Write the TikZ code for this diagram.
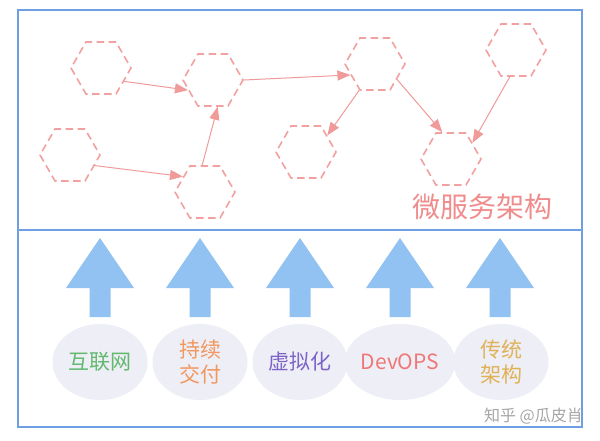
\documentclass[tikz,border=0pt]{standalone}
\usepackage{fontspec}
\setmainfont{Noto Sans CJK SC}
\usetikzlibrary{shapes.geometric,arrows.meta}
\definecolor{frameblue}{HTML}{6E9FE4}
\definecolor{hexpink}{HTML}{F2A0A0}
\definecolor{arrowpink}{HTML}{F09A9A}
\definecolor{blockblue}{HTML}{92C2F2}
\definecolor{ellfill}{HTML}{EEEEF6}
\definecolor{titlepink}{HTML}{F08C8C}
\definecolor{labgreen}{HTML}{62B86E}
\definecolor{laborange}{HTML}{F2975E}
\definecolor{labpurple}{HTML}{7E63C9}
\definecolor{labred}{HTML}{EE7878}
\definecolor{labgold}{HTML}{E0B257}
\begin{document}
\begin{tikzpicture}[x=1pt,y=-1pt,
  hexa/.style={regular polygon, regular polygon sides=6, minimum size=60pt, inner sep=0pt,
    draw=hexpink, dash pattern=on 7.5pt off 4.5pt, line width=1.6pt},
  link/.style={draw=arrowpink, line width=1pt, -{Triangle[length=13pt,width=10pt]}},
  lab/.style={ellipse, fill=ellfill, minimum width=95pt, minimum height=76pt, inner sep=0pt,
    align=center, font=\fontsize{21}{25}\selectfont},
  blockarrow/.style={fill=blockblue}]
\useasboundingbox (0,0) rectangle (600,440);
\fill[white] (0,0) rectangle (600,440);

% frame
\draw[frameblue, line width=2pt] (18,10) rectangle (582,427);
\draw[frameblue, line width=2pt] (18,229.5) -- (582,229.5);

% hexagons
\node[hexa] (h1) at (101,68) {};
\node[hexa] (h3) at (70,155) {};
\node[hexa] (h2) at (213,80) {};
\node[hexa] (h4) at (205,192) {};
\node[hexa] (h5) at (375,64) {};
\node[hexa] (h6) at (306,152) {};
\node[hexa] (h7) at (516,50) {};
\node[hexa] (h8) at (451,159) {};

% connectors
\draw[link] (h1.-30) -- (h2.202);
\draw[link] (h3.-23) -- (h4.145);
\draw[link] (h4.96) -- (h2.-80);
\draw[link] (h2.0) -- (h5.204);
\draw[link] (h5.239) -- (h6.38);
\draw[link] (h5.-35) -- (h8.108);
\draw[link] (h7.257) -- (h8.37);

\node[text=titlepink, font=\fontsize{28}{30}\selectfont] (title) at (482,207) {微服务架构};

% block arrows
\foreach \x in {100,200,300,400,500}
  \fill[blockarrow] (\x,238) -- (\x+34,288) -- (\x+10.5,288) -- (\x+10.5,317)
    -- (\x-10.5,317) -- (\x-10.5,288) -- (\x-34,288) -- cycle;

% labels
\node[lab, text=labgreen] (e1) at (100,362) {互联网};
\node[lab, text=laborange] (e2) at (200,362) {持续\\交付};
\node[lab, text=labpurple] (e3) at (300,362) {虚拟化};
\node[lab, text=labred] (e4) at (400,362) {DevOPS};
\node[lab, text=labgold] (e5) at (501,362) {传统\\架构};

\node[text=black!35, font=\fontsize{16}{18}\selectfont, anchor=east, inner sep=0pt] (wm) at (583,416) {知乎 @瓜皮肖};
\end{tikzpicture}
\end{document}
